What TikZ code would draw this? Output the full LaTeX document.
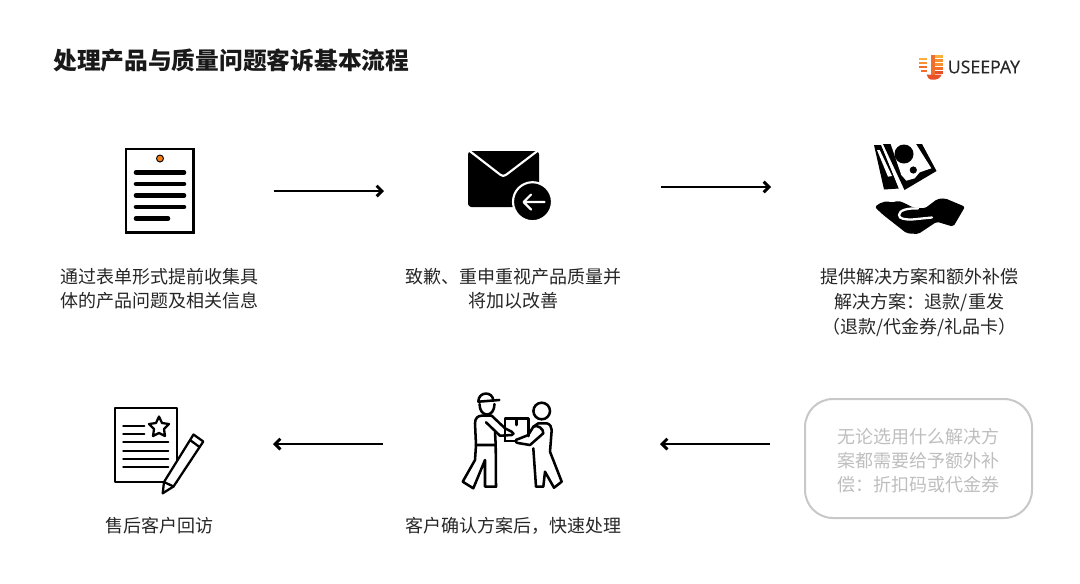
\documentclass[tikz,border=0pt]{standalone}
\usepackage{fontspec}
\usetikzlibrary{arrows.meta}
\setmainfont{Noto Sans CJK SC}
\newfontfamily\logofont[FakeBold=0.4]{Open Sans}
\definecolor{boxgray}{RGB}{200,200,200}
\definecolor{textgray}{RGB}{190,190,190}
\definecolor{pinorange}{RGB}{245,125,20}
\definecolor{logoa}{RGB}{250,175,60}
\definecolor{logob}{RGB}{247,145,50}
\definecolor{logoc}{RGB}{242,110,45}
\definecolor{logod}{RGB}{232,80,40}
\tikzset{
  label/.style={align=center,font=\fontsize{13.5}{18}\selectfont,text=black!85,inner sep=0pt},
  flowline/.style={color=black,line width=1.5pt,-{Straight Barb[length=4pt,width=8pt,line width=2.2pt]}},
  iconline/.style={color=black,line width=1.9pt,line cap=round,line join=round},
  reviewline/.style={color=black,line width=1.7pt,line cap=round,line join=round},
}

\begin{document}
\begin{tikzpicture}[%
      x=0.75pt,y=-0.75pt,
      ]
      \useasboundingbox (0,0) rectangle (1080,583);

      \node [font=\fontsize{17.8}{22}\selectfont\bfseries,text=black!90,anchor=west,inner sep=0pt] (title) at (53,60.5) {处理产品与质量问题客诉基本流程};

      % logo
      \fill [logoa] (919.3,57.7) rectangle (926.7,60.3);
      \fill [logob] (919.3,61.7) rectangle (926.7,64.3);
      \fill [logoc] (919.3,65.7) rectangle (926.7,68.3);
      \fill [logoc] (920.5,69.7) rectangle (926.7,72.3);
      \fill [logod] (926.5,74.5) -- (941.7,74.5) .. controls (940,78) and (938,79.7) .. (935,79.7) -- (931,79.7) .. controls (929,79.7) and (927.5,77.5) .. (926.5,74.5) -- cycle;
      \fill [logoc] (930.7,55) rectangle (934.5,74.5);
      \fill [logoa] (934.5,55) rectangle (943.3,57.7);
      \fill [logob] (934.5,59) rectangle (943.3,61.7);
      \fill [logob] (934.5,63) rectangle (943.3,65.7);
      \fill [logoc] (934.5,67) rectangle (943.3,69.7);
      \fill [logod] (934.5,71) rectangle (942.5,73.5);
      \node [font=\logofont\fontsize{13.3}{15}\selectfont,text=black!85,anchor=west,inner sep=0pt] (logo) at (947.5,67) {USEEPAY};

      % form
      \draw [color=black,line width=1.9pt,fill=white] (126,149) rectangle (193.7,232.7);
      \filldraw [fill=pinorange,draw=black,line width=0.7pt] (160,158.5) circle (3.5);
      \foreach \y in {172.5,184,195.5,207}
        \draw [color=black,line width=3.4pt,line cap=round] (136,\y) -- (184,\y);
      \draw [color=black,line width=3.4pt,line cap=round] (136,218.5) -- (168,218.5);

      % mail
      \fill [color=black,rounded corners=2.5pt] (468,151) rectangle (539,207);
      \draw [color=white,line width=1.6pt,line cap=round,line join=round] (469,150.5) -- (500,174.5) .. controls (502.5,176.5) and (504,176.5) .. (506.5,174.5) -- (538,150.5);
      \filldraw [fill=black,draw=white,line width=1.6pt] (532.5,201.7) circle (19.5);
      \draw [color=white,line width=1.6pt,line cap=round,line join=round] (544.5,202) -- (524,202) (531,194.5) -- (523.5,202) -- (531,209.5);

      % money
      \fill [color=black] (874,145) -- (881,145) -- (899,188.5) -- (884,189.5) -- cycle;
      \fill [color=white] (877,150) -- (888,176.7) -- (892,176) -- (879.7,150) -- cycle;
      \fill [color=black] (883,144) -- (922,144) -- (936.5,171) -- (904.5,190) -- cycle;
      \draw [color=white,line width=0.9pt] (881.5,143) -- (900.5,191);
      \fill [color=white] (890.7,144) -- (916,144) -- (931.3,168.3) -- (919.7,172.3) -- (914.7,178.3) -- (906.3,180.7) -- (901.3,175) -- cycle;
      \fill [color=black] (904,154) circle (9.5);
      \fill [color=black] (913.3,170) circle (3.6);

      % hand
      \fill [color=black,rounded corners=1.5pt] (875,207.3) -- (878,204) -- (886.7,201) -- (891.7,202.7) -- (898.3,200.7) -- (905,203.3) -- (913.3,207.7) -- (925,208.3) -- (937.3,199) -- (945,198.3) -- (965,206.7) -- (953.3,226.7) -- (936.7,221.7) -- (918.3,234) -- (906.7,233.3) -- (883.3,215) -- cycle;
      \draw [color=white,line width=1.7pt,line cap=round] (918,208.5) .. controls (908,208) and (899,210) .. (899,215) .. controls (899,219) and (905,219.5) .. (912,219.5) -- (932,217.5);

      % courier
      \draw [iconline,fill=white] (505,441) -- (505,418.3) -- (528.3,418.3) -- (528.3,436);
      \draw [iconline] (516.7,418.3) -- (516.7,425);
      \draw [iconline] (478.3,401.7) .. controls (478.3,391) and (493,391) .. (493.3,400.6);
      \draw [iconline] (478.3,401.7) -- (499.3,400);
      \draw [iconline] (479.5,404) .. controls (479.5,418) and (494.5,418) .. (494.5,404);
      \draw [iconline] (476,445) -- (475,423.3) .. controls (475,418) and (478,415.7) .. (481.7,415.7) -- (491.7,415.7) -- (505,428.3) -- (511.7,431.7) .. controls (514,432.5) and (514,435) .. (511.7,435) -- (500,435.7) -- (486,422.3);
      \draw [iconline] (495,431.7) -- (495.7,445) -- (476,445) -- (475,460) -- (462.7,481.7) -- (473.3,488.3) -- (485,460) -- (485,486.7) -- (496,486.7) -- (495.7,445);

      % customer
      \draw [iconline] (505,441) -- (515,441);
      \draw [iconline] (541.7,411) circle (8.3);
      \draw [iconline] (518.3,439) .. controls (515,439) and (515,443) .. (518,443) -- (530,445) -- (543.3,433.3) .. controls (544,429) and (537,424) .. (533.3,426.7) -- (528.3,435) -- cycle;
      \draw [iconline] (533.3,426.7) -- (538.3,423.3) -- (546.7,423.3) .. controls (550,424) and (551.7,427) .. (551.7,430) -- (550,451.7) -- (561.7,481.7) -- (554,487.7) -- (545,471.7) -- (543.3,486.7) -- (536,486.7) -- (533.3,448.3);

      % review
      \draw [reviewline] (115,408.3) rectangle (177,482);
      \draw [reviewline] (123.3,425.7) -- (144.3,425.7);
      \draw [reviewline] (123.3,434) -- (144.3,434);
      \foreach \y in {442.3,450.7,458.7,467}
        \draw [reviewline] (123.3,\y) -- (168.3,\y);
      \draw [reviewline] (159,416.5) -- (162,423) -- (169,424) -- (164,429) -- (165,436) -- (159,433) -- (153,436) -- (154,429) -- (149,424) -- (156,423) -- cycle;
      \draw [reviewline,fill=white] (193.5,434.5) -- (203.3,441.5) -- (173.5,486.5) -- (162.7,493.3) -- (164,482) -- cycle;
      \draw [reviewline] (190,440) -- (199.5,447);
      \draw [reviewline] (164,482) -- (173.5,486.5);

      % texts
      \node [label] (formtext) at (159,289) {通过表单形式提前收集具\\体的产品问题及相关信息};
      \node [label] (mailtext) at (513,289) {致歉、重申重视产品质量并\\将加以改善};
      \node [label,font=\fontsize{13.5}{18.75}\selectfont] (paytext) at (919.5,302) {提供解决方案和额外补偿\\解决方案^^^^ff1a退款/重发\\^^^^ff08退款/代金券/礼品卡^^^^ff09};
      \node [label] (replytext) at (159,526) {售后客户回访};
      \node [label] (handtext) at (513,526) {客户确认方案后^^^^ff0c快速处理};
      \node [draw=boxgray,line width=1.5pt,rounded corners=21pt,minimum width=170.25pt,minimum height=89.25pt] (notebox) at (918.5,458.5) {};
      \node [label,text=textgray] (notetext) at (918.5,460.5) {无论选用什么解决方\\案都需要给予额外补\\偿^^^^ff1a折扣码或代金券};

      % arrows
      \coordinate (a1) at (274,191);
      \coordinate (b1) at (384,191);
      \coordinate (a2) at (661,187);
      \coordinate (b2) at (771,187);
      \coordinate (a3) at (770,444);
      \coordinate (b3) at (660,444);
      \coordinate (a4) at (383,444);
      \coordinate (b4) at (273,444);
      \draw [flowline] (a1) -- (b1);
      \draw [flowline] (a2) -- (b2);
      \draw [flowline] (a3) -- (b3);
      \draw [flowline] (a4) -- (b4);
\end{tikzpicture}
\end{document}
